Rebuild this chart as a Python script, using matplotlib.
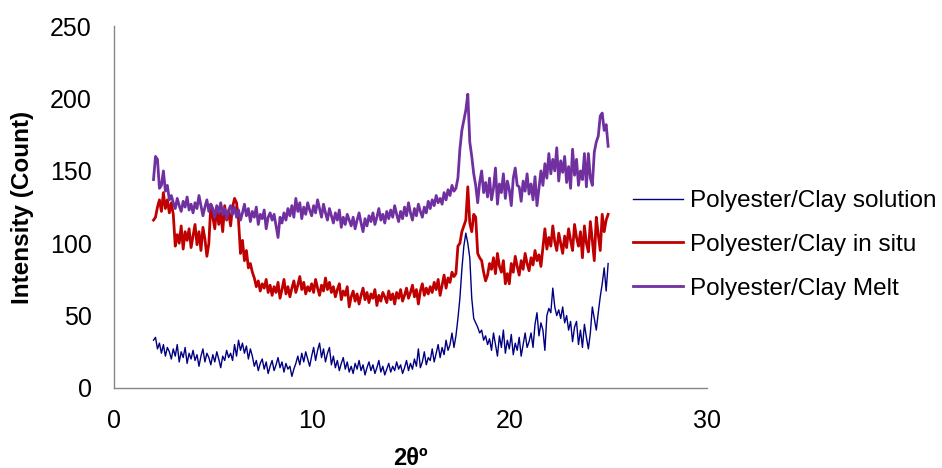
import matplotlib
matplotlib.use("Agg")
import matplotlib.pyplot as plt
import numpy as np

plt.rcParams['font.family'] = ['Liberation Sans', 'DejaVu Sans']

# 2theta sampled every 0.1 deg from 2.0 to 25.0
two_theta = np.round(np.arange(2.0, 25.05, 0.1), 1)

solution = [
    33, 35, 27, 31, 24, 30, 22, 28, 25, 20,
    27, 22, 30, 18, 25, 21, 28, 17, 24, 20,
    26, 19, 23, 15, 22, 27, 18, 24, 21, 16,
    23, 18, 25, 20, 14, 22, 19, 26, 21, 24,
    19, 30, 22, 33, 26, 31, 24, 29, 20, 27,
    22, 15, 19, 12, 17, 20, 13, 18, 10, 15,
    19, 12, 16, 21, 14, 18, 11, 17, 13, 15,
    8, 13, 17, 22, 16, 24, 18, 25, 20, 15,
    22, 28, 19, 26, 31, 21, 27, 18, 24, 28,
    16, 22, 14, 19, 12, 17, 21, 13, 18, 11,
    15, 10, 17, 13, 19, 12, 16, 9, 14, 18,
    12, 16, 10, 14, 19, 11, 15, 9, 13, 17,
    11, 15, 12, 18, 13, 16, 10, 14, 19, 12,
    17, 13, 20, 15, 27, 14, 18, 25, 16, 21,
    19, 27, 18, 24, 30, 21, 28, 23, 33, 26,
    30, 38, 28, 36, 48, 62, 82, 98, 107, 100,
    90, 62, 48, 45, 42, 38, 40, 33, 36, 30,
    34, 26, 38, 30, 22, 36, 28, 40, 24, 33,
    27, 37, 23, 31, 26, 35, 22, 30, 38, 28,
    32, 38, 28, 44, 52, 36, 45, 40, 26, 50,
    55, 52, 69, 56, 50, 54, 48, 56, 45, 50,
    40, 46, 32, 42, 46, 30, 40, 28, 44, 35,
    27, 38, 56, 48, 40, 52, 63, 72, 83, 67,
    86,
]

in_situ = [
    116, 118, 125, 130, 122, 135, 124, 130, 121, 128,
    120, 98, 106, 100, 112, 96, 108, 102, 110, 97,
    105, 113, 99, 108, 95, 111, 103, 91, 100, 127,
    118, 110, 125, 113, 121, 108, 126, 116, 122, 112,
    125, 131, 128, 116, 93, 102, 88, 95, 83, 86,
    80, 76, 70, 74, 67, 72, 69, 75, 66, 71,
    64, 70, 66, 73, 62, 68, 75, 65, 70, 63,
    69, 74, 66, 71, 77, 68, 73, 65, 70, 67,
    72, 66, 75, 69, 64, 71, 67, 76, 68, 73,
    66, 70, 63, 68, 72, 61, 67, 64, 70, 56,
    63, 67, 60, 65, 58, 64, 69, 61, 66, 59,
    65, 62, 68, 57, 64, 60, 66, 63, 59, 67,
    61, 65, 58, 66, 62, 68, 60, 64, 69, 62,
    66, 71, 63, 68, 58, 67, 72, 64, 69, 65,
    70, 66, 73, 68, 75, 64, 71, 78, 69, 76,
    73, 80, 77, 79, 98, 100, 108, 112, 116, 139,
    114, 108, 120, 118, 93, 90, 88, 80, 74, 78,
    86, 82, 90, 79, 93, 84, 80, 88, 72, 79,
    72, 86, 80, 91, 84, 78, 88, 82, 93, 86,
    81, 90, 85, 95, 88, 92, 84, 97, 110, 96,
    104, 98, 112, 101, 95, 107, 100, 93, 105, 97,
    110, 102, 95, 113, 104, 98, 108, 90, 112, 100,
    94, 115, 102, 88, 118, 106, 95, 120, 108, 116,
    120,
]

melt = [
    144, 160, 158, 138, 140, 150, 136, 140, 130, 133,
    128, 124, 131, 126, 122, 129, 125, 132, 123, 127,
    121, 128, 124, 133, 126, 119, 125, 130, 122, 127,
    124, 118, 126, 121, 128, 120, 124, 117, 123, 126,
    120, 125, 118, 123, 116, 121, 127, 119, 124, 115,
    122, 118, 125, 113, 120, 117, 123, 110, 118, 121,
    116, 120, 112, 104, 118, 114, 121, 116, 124, 119,
    126, 118, 131, 122, 128, 117, 125, 120, 128, 123,
    119, 126, 121, 130, 124, 118, 127, 121, 116, 124,
    119, 114, 121, 116, 123, 111, 118, 113, 120, 116,
    112, 118, 110, 116, 121, 114, 108, 117, 112, 119,
    115, 121, 113, 118, 124, 116, 120, 114, 122, 117,
    123, 118, 126, 120, 115, 122, 117, 125, 119, 128,
    121, 116, 124, 119, 127, 122, 118, 125, 121, 129,
    124, 130, 126, 133, 128, 131, 127, 135, 130, 137,
    133, 140, 136, 138, 145, 165, 178, 185, 192, 203,
    170, 160, 148, 140, 128, 142, 150, 135, 142, 132,
    145, 130, 138, 152, 127, 141, 135, 148, 131, 143,
    137, 126, 145, 152, 140, 139, 129, 143, 136, 148,
    134, 141, 130, 146, 126, 138, 150, 140, 155, 145,
    162, 148, 158, 150, 166, 143, 157, 149, 160, 142,
    153, 138, 165, 147, 158, 140, 150, 144, 162, 139,
    162, 145, 140, 163, 170, 174, 188, 190, 178, 182,
    167,
]

labels = ['Polyester/Clay solution', 'Polyester/Clay in situ', 'Polyester/Clay Melt']

fig = plt.figure(figsize=(9.42, 4.68), dpi=100)
ax = fig.add_axes([0.121, 0.171, 0.6295, 0.773])

ax.plot(two_theta, solution, color='#000080', lw=1.0, label=labels[0])
ax.plot(two_theta, in_situ, color='#C00000', lw=2.0, label=labels[1])
ax.plot(two_theta, melt, color='#7030A0', lw=2.0, label=labels[2])

ax.set_xlim(0, 30)
ax.set_ylim(0, 250)
ax.set_xticks([0, 10, 20, 30])
ax.set_yticks([0, 50, 100, 150, 200, 250])
ax.tick_params(length=0, labelsize=18, colors='black')
ax.tick_params(axis='y', pad=16)
ax.tick_params(axis='x', pad=15)
for s in ['top', 'right']:
    ax.spines[s].set_visible(False)
for s in ['left', 'bottom']:
    ax.spines[s].set_color('#868686')
    ax.spines[s].set_linewidth(1.0)

ax.set_xlabel('2θº', fontsize=17, fontweight='bold', labelpad=10)
ax.set_ylabel('Intensity (Count)', fontsize=17.5, fontweight='bold')
ax.yaxis.set_label_coords(-0.135, 0.5)

fig.legend(loc='center left', bbox_to_anchor=(0.659, 1 - 245 / 468), frameon=False,
           borderpad=0, fontsize=17.5, handlelength=2.06, handletextpad=0.3,
           labelspacing=0.9)

fig.savefig('out.png', dpi=100)
